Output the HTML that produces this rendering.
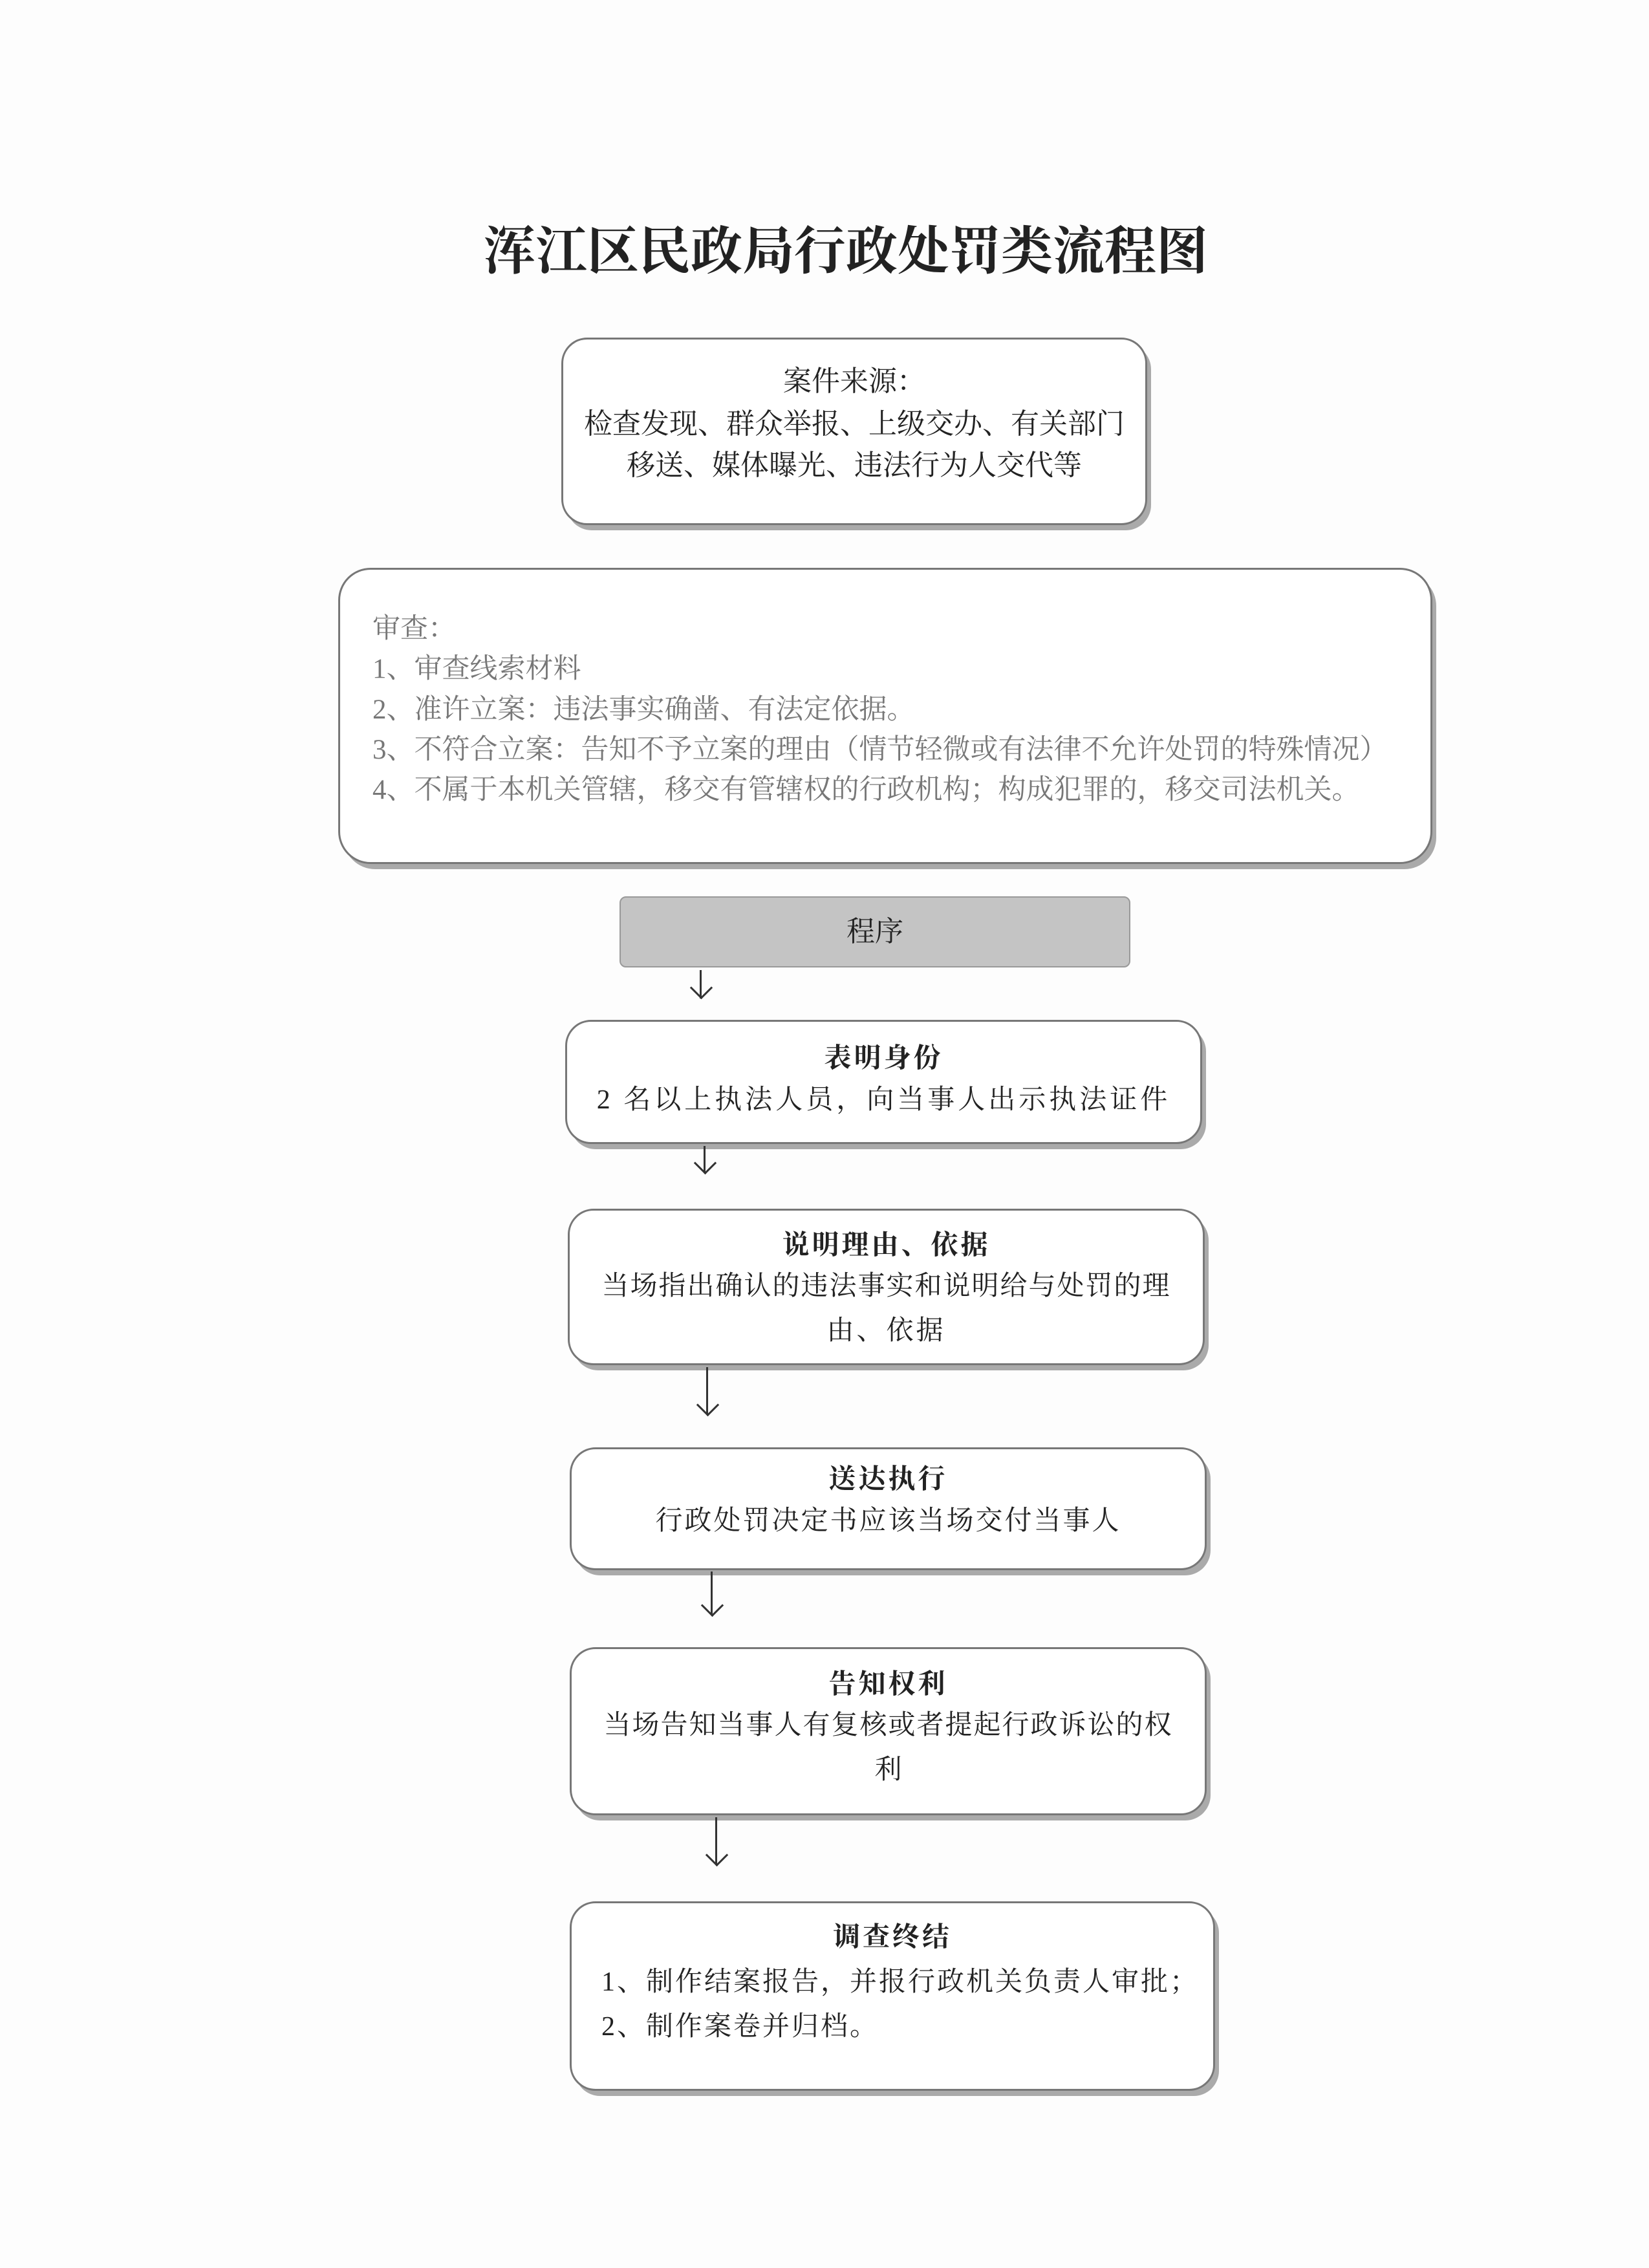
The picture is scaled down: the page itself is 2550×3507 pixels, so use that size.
<!DOCTYPE html>
<html><head><meta charset="utf-8"><style>
body{margin:0;background:#fdfdfd;}
#p{position:relative;width:2550px;height:3507px;overflow:hidden;background:#fdfdfd;font-family:"Liberation Serif","Noto Serif CJK SC",serif;color:#222;}
.b{position:absolute;border:3px solid #777;border-radius:40px;background:#fff;box-shadow:7px 9px 0 -1px #aaa;box-sizing:border-box;}
.t{position:absolute;white-space:nowrap;line-height:1;}
.c{text-align:center;}
.a{position:absolute;width:3px;background:#333;}
.h{position:absolute;width:22px;height:22px;border-right:3px solid #333;border-bottom:3px solid #333;transform:rotate(45deg);}
</style></head><body><div id="p">
<div class="t c" style="left:0;width:2616px;top:350px;font-size:80px;font-weight:bold;">浑江区民政局行政处罚类流程图</div>

<div class="b" style="left:868px;top:522px;width:906px;height:290px;"></div>
<div class="t c" style="left:868px;width:906px;top:568px;font-size:44px;">案件来源：</div>
<div class="t c" style="left:868px;width:906px;top:634px;font-size:44px;">检查发现、群众举报、上级交办、有关部门</div>
<div class="t c" style="left:868px;width:906px;top:698px;font-size:44px;">移送、媒体曝光、违法行为人交代等</div>

<div class="b" style="left:523px;top:878px;width:1692px;height:458px;border-radius:50px;"></div>
<div class="t" style="left:576px;top:951px;font-size:43px;color:#777;">审查：</div>
<div class="t" style="left:576px;top:1013px;font-size:43px;color:#777;">1、审查线索材料</div>
<div class="t" style="left:576px;top:1076px;font-size:43px;color:#777;">2、准许立案：违法事实确凿、有法定依据。</div>
<div class="t" style="left:576px;top:1138px;font-size:43px;color:#777;">3、不符合立案：告知不予立案的理由（情节轻微或有法律不允许处罚的特殊情况）</div>
<div class="t" style="left:576px;top:1200px;font-size:43px;color:#777;">4、不属于本机关管辖，移交有管辖权的行政机构；构成犯罪的，移交司法机关。</div>

<div style="position:absolute;left:958px;top:1386px;width:790px;height:110px;background:#c4c4c4;border:2px solid #999;border-radius:10px;box-sizing:border-box;"></div>
<div class="t c" style="left:958px;width:790px;top:1419px;font-size:44px;">程序</div>
<div class="a" style="left:1082px;top:1500px;height:44px;"></div><div class="h" style="left:1072px;top:1515px;"></div>

<div class="b" style="left:874px;top:1577px;width:985px;height:192px;"></div>
<div class="t c" style="left:874px;width:985px;top:1616px;font-size:42px;font-weight:bold;letter-spacing:4px;">表明身份</div>
<div class="t c" style="left:874px;width:985px;top:1680px;font-size:42px;letter-spacing:5px;">2 名以上执法人员，向当事人出示执法证件</div>
<div class="a" style="left:1088px;top:1772px;height:42px;"></div><div class="h" style="left:1078px;top:1786px;"></div>

<div class="b" style="left:878px;top:1869px;width:985px;height:242px;"></div>
<div class="t c" style="left:878px;width:985px;top:1905px;font-size:42px;font-weight:bold;letter-spacing:4px;">说明理由、依据</div>
<div class="t c" style="left:878px;width:985px;top:1968px;font-size:42px;letter-spacing:2px;">当场指出确认的违法事实和说明给与处罚的理</div>
<div class="t c" style="left:878px;width:985px;top:2037px;font-size:42px;letter-spacing:4px;">由、依据</div>
<div class="a" style="left:1092px;top:2114px;height:74px;"></div><div class="h" style="left:1082px;top:2160px;"></div>

<div class="b" style="left:881px;top:2238px;width:985px;height:190px;"></div>
<div class="t c" style="left:881px;width:985px;top:2267px;font-size:42px;font-weight:bold;letter-spacing:4px;">送达执行</div>
<div class="t c" style="left:881px;width:985px;top:2331px;font-size:42px;letter-spacing:3px;">行政处罚决定书应该当场交付当事人</div>
<div class="a" style="left:1099px;top:2430px;height:68px;"></div><div class="h" style="left:1089px;top:2470px;"></div>

<div class="b" style="left:881px;top:2547px;width:985px;height:260px;"></div>
<div class="t c" style="left:881px;width:985px;top:2584px;font-size:42px;font-weight:bold;letter-spacing:4px;">告知权利</div>
<div class="t c" style="left:881px;width:985px;top:2647px;font-size:42px;letter-spacing:2px;">当场告知当事人有复核或者提起行政诉讼的权</div>
<div class="t c" style="left:881px;width:985px;top:2716px;font-size:42px;">利</div>
<div class="a" style="left:1106px;top:2810px;height:74px;"></div><div class="h" style="left:1096px;top:2856px;"></div>

<div class="b" style="left:881px;top:2940px;width:998px;height:293px;"></div>
<div class="t c" style="left:881px;width:998px;top:2975px;font-size:42px;font-weight:bold;letter-spacing:4px;">调查终结</div>
<div class="t" style="left:930px;top:3044px;font-size:42px;letter-spacing:3px;">1、制作结案报告，并报行政机关负责人审批；</div>
<div class="t" style="left:930px;top:3113px;font-size:42px;letter-spacing:3px;">2、制作案卷并归档。</div>
</div></body></html>
